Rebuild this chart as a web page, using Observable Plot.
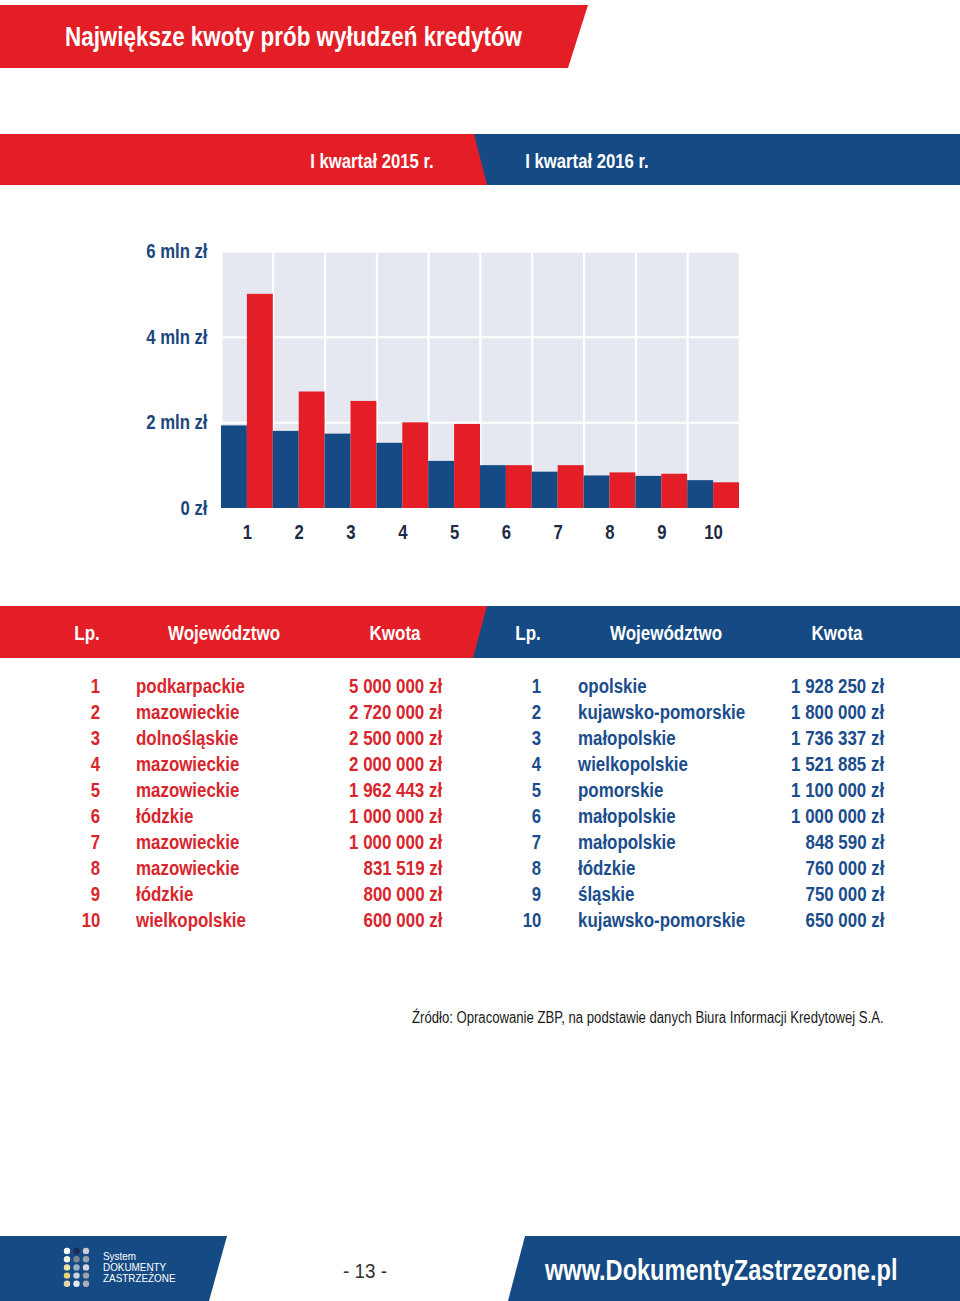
<!DOCTYPE html>
<html>
<head>
<meta charset="utf-8">
<script src="https://cdn.jsdelivr.net/npm/d3@7"></script>
<script src="https://cdn.jsdelivr.net/npm/@observablehq/plot@0.6"></script>
<style>
  html, body { margin: 0; padding: 0; background: #fff; }
  body { width: 960px; height: 1301px; position: relative; overflow: hidden;
         font-family: "Liberation Sans", Arial, sans-serif; }
  .band { position: absolute; }
  .t { position: absolute; white-space: nowrap; line-height: 1; }
  .b { font-weight: bold; }
  #chart { position: absolute; left: 130px; top: 230px; }
</style>
</head>
<body>
<div id="page"></div>
<div id="chart"></div>
<script>
// ---------- data ----------
const ranks = [1, 2, 3, 4, 5, 6, 7, 8, 9, 10];
const seriesKeys = ["2016", "2015"];              // order of bars inside each group (blue first)
const seriesLabels = ["I kwartał 2015 r.", "I kwartał 2016 r."];
const amounts2015 = [5000000, 2720000, 2500000, 2000000, 1962443, 1000000, 1000000, 831519, 800000, 600000];
const amounts2016 = [1928250, 1800000, 1736337, 1521885, 1100000, 1000000, 848590, 760000, 750000, 650000];
const regions2015 = ["podkarpackie", "mazowieckie", "dolnośląskie", "mazowieckie", "mazowieckie", "łódzkie", "mazowieckie", "mazowieckie", "łódzkie", "wielkopolskie"];
const regions2016 = ["opolskie", "kujawsko-pomorskie", "małopolskie", "wielkopolskie", "pomorskie", "małopolskie", "małopolskie", "łódzkie", "śląskie", "kujawsko-pomorskie"];
const yTicks = [0, 2000000, 4000000, 6000000];
const yTickLabels = ["0 zł", "2 mln zł", "4 mln zł", "6 mln zł"];
const tableHeaders = ["Lp.", "Województwo", "Kwota"];
const titleText = "Największe kwoty prób wyłudzeń kredytów";
const sourceText = "Źródło: Opracowanie ZBP, na podstawie danych Biura Informacji Kredytowej S.A.";

// ---------- colours ----------
const RED = "#e31e26";
const BLUE = "#154a84";
const RED_TXT = "#d9252d";
const BLUE_TXT = "#1b4d8c";
const BG = "#e5e8f1";
const NARROW = 0.835;   // condense factor (narrow typeface look)

// ---------- page furniture ----------
const page = document.getElementById("page");
function band(left, top, w, h, color, poly) {
  const d = document.createElement("div");
  d.className = "band";
  Object.assign(d.style, { left: left + "px", top: top + "px", width: w + "px", height: h + "px", background: color });
  if (poly) d.style.clipPath = "polygon(" + poly + ")";
  page.appendChild(d);
}
function text(str, x, y, opts = {}) {
  const d = document.createElement("div");
  d.className = "t" + (opts.bold ? " b" : "");
  d.textContent = str;
  d.style.fontSize = (opts.size || 20) + "px";
  d.style.color = opts.color || "#000";
  if (opts.family) d.style.fontFamily = opts.family;
  const k = opts.sx || NARROW;
  if (opts.align === "right") {
    d.style.right = (960 - x) + "px";
    d.style.transformOrigin = "right center";
    d.style.transform = `translateY(-50%) scaleX(${k})`;
  } else if (opts.align === "center") {
    d.style.left = x + "px";
    d.style.transformOrigin = "center center";
    d.style.transform = `translate(-50%,-50%) scaleX(${k})`;
  } else {
    d.style.left = x + "px";
    d.style.transformOrigin = "left center";
    d.style.transform = `translateY(-50%) scaleX(${k})`;
  }
  d.style.top = y + "px";
  page.appendChild(d);
  return d;
}
const fmt = v => d3.format(",")(v).replace(/,/g, " ") + " zł";

// title banner
band(0, 5, 588, 63, RED, "0 0, 588px 0, 568px 63px, 0 63px");
text(titleText, 65, 37, { size: 27, bold: true, color: "#fff", sx: 0.83 });

// legend band
band(0, 134, 960, 51, BLUE);
band(0, 134, 487, 51, RED, "0 0, 474px 0, 487px 51px, 0 51px");
text(seriesLabels[0], 372, 161, { size: 20, bold: true, color: "#fff", align: "center" });
text(seriesLabels[1], 587, 161, { size: 20, bold: true, color: "#fff", align: "center" });

// table header band
band(0, 606, 960, 52, BLUE);
band(0, 606, 487, 52, RED, "0 0, 487px 0, 473px 52px, 0 52px");
const hdrX = [[87, 224, 395], [528, 666, 837]];
hdrX.forEach(xs => xs.forEach((x, i) => text(tableHeaders[i], x, 633, { size: 20, bold: true, color: "#fff", align: "center", sx: 0.85 })));

// table rows
ranks.forEach((r, i) => {
  const y = 686 + i * 26;
  text(String(r), 100, y, { size: 20, bold: true, color: RED_TXT, align: "right" });
  text(regions2015[i], 136, y, { size: 20, bold: true, color: RED_TXT, sx: 0.845 });
  text(fmt(amounts2015[i]), 442, y, { size: 20, bold: true, color: RED_TXT, align: "right", sx: 0.845 });
  text(String(r), 541, y, { size: 20, bold: true, color: BLUE_TXT, align: "right" });
  text(regions2016[i], 578, y, { size: 20, bold: true, color: BLUE_TXT, sx: 0.845 });
  text(fmt(amounts2016[i]), 884, y, { size: 20, bold: true, color: BLUE_TXT, align: "right", sx: 0.845 });
});

// source
text(sourceText, 412, 1018, { size: 16, color: "#1a1a1a", sx: 0.82 });

// footer
band(0, 1236, 227, 65, BLUE, "0 0, 227px 0, 209px 65px, 0 65px");
band(508, 1236, 452, 65, BLUE, "17px 0, 452px 0, 452px 65px, 0 65px");
text("- 13 -", 365, 1270, { size: 21, color: "#333", align: "center", sx: 0.9 });
text("www.DokumentyZastrzezone.pl", 545, 1270, { size: 30, bold: true, color: "#fff", sx: 0.785 });
// logo dots
const dotColors = [
  ["#ffffff", "#1d2c54", "#c9ccd3"],
  ["#f4f1e6", "#7d8595", "#9aa1ad"],
  ["#efe2a6", "#9fb0c8", "#d5d7dc"],
  ["#e8d27a", "#c6d3e6", "#9ea3ad"],
  ["#e6d6a8", "#e6eaf2", "#a9adb5"]
];
const logo = d3.select(page).append("svg").attr("width", 40).attr("height", 45)
  .style("position", "absolute").style("left", "60px").style("top", "1246px");
dotColors.forEach((row, ri) => row.forEach((c, ci) => {
  logo.append("circle").attr("cx", 7 + ci * 9.5).attr("cy", 5 + ri * 8.2).attr("r", 3.2).attr("fill", c);
}));
const logoText = ["System", "DOKUMENTY", "ZASTRZEŻONE"];
logoText.forEach((s, i) => text(s, 103, 1257 + i * 11, { size: 11.5, color: "#fff", sx: 0.86 }));

// ---------- chart ----------
const data = ranks.flatMap((r, i) => [
  { rank: r, series: "2016", value: amounts2016[i] },
  { rank: r, series: "2015", value: amounts2015[i] }
]);
const yLabel = d => yTickLabels[yTicks.indexOf(d)];

const chart = Plot.plot({
  width: 640,
  height: 328,
  marginLeft: 91,
  marginRight: 31,
  marginTop: 21,
  marginBottom: 50,
  style: { fontFamily: "'Liberation Sans', Arial, sans-serif", fontWeight: "bold", fontSize: "20px", background: "transparent", overflow: "visible" },
  fx: { domain: ranks, padding: 0, label: null, round: false },
  x: { domain: seriesKeys, padding: 0, axis: null, round: false },
  y: { domain: [0, 6000000], label: null },
  color: { domain: seriesKeys, range: [BLUE, RED] },
  marks: [
    Plot.frame({ fill: BG, stroke: "white", strokeWidth: 2 }),
    Plot.gridY(yTicks, { stroke: "white", strokeWidth: 2, strokeOpacity: 1 }),
    Plot.barY(data, { fx: "rank", x: "series", y: "value", fill: "series" }),
    Plot.axisY({ ticks: yTicks, tickFormat: yLabel, tickSize: 0, tickPadding: 14, fill: "#1c467e", fontSize: 20, label: null }),
    Plot.axisFx({ anchor: "bottom", tickSize: 0, tickPadding: 16, fill: "#1f2a44", fontSize: 20, label: null })
  ]
});
document.getElementById("chart").appendChild(chart);
// condense the axis texts to the narrow look of the reference
chart.querySelectorAll("text").forEach(t => {
  const w = t.getComputedTextLength();
  if (w > 0) {
    t.setAttribute("textLength", (w * NARROW).toFixed(1));
    t.setAttribute("lengthAdjust", "spacingAndGlyphs");
  }
});
</script>
</body>
</html>
